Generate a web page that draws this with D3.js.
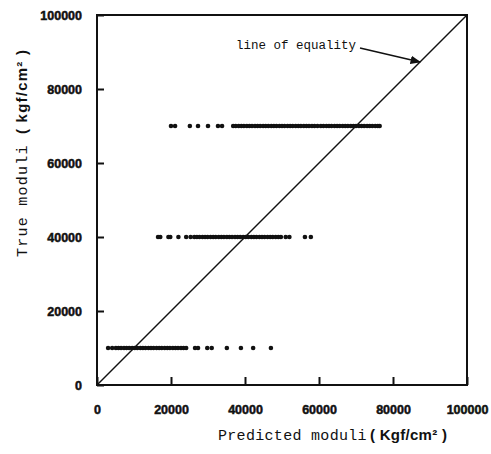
<!DOCTYPE html>
<html>
<head>
<meta charset="utf-8">
<script src="https://cdn.jsdelivr.net/npm/d3@7/dist/d3.min.js"></script>
<style>
  html, body { margin: 0; padding: 0; background: #fff; }
  svg { display: block; }
</style>
</head>
<body>
<svg id="chart" width="491" height="454"></svg>
<script>
// ---- data ----
const xTicks = [0, 20000, 40000, 60000, 80000, 100000];
const yTicks = [0, 20000, 40000, 60000, 80000, 100000];
const trueLevels = [10000, 40000, 70000];
const predictedAt10000 = [3000, 4100, 5100, 5800, 6500, 7300, 8000, 8700, 9500, 10200, 10900, 11700,
  12400, 13100, 13900, 14600, 15300, 16100, 16800, 17500, 18300, 19000, 19700, 20500, 21200, 21900,
  22700, 23400, 24100, 26500, 27300, 29800, 31000, 35100, 38900, 42200, 47000];
const predictedAt40000 = [16500, 17100, 19300, 19800, 22000, 24100, 25300, 26300, 27000, 27700, 28500,
  29200, 29900, 30700, 31400, 32100, 32900, 33600, 34300, 35100, 35800, 36500, 37300, 38000, 38700,
  39500, 40200, 40900, 41700, 42400, 43100, 43900, 44600, 45300, 46100, 46800, 47500, 48300, 49000,
  49700, 51000, 52000, 56200, 57800];
const predictedAt70000 = [20000, 21100, 25100, 27300, 30000, 32700, 33800, 36800, 37500, 38300, 39000,
  39700, 40500, 41200, 41900, 42700, 43400, 44100, 44900, 45600, 46300, 47100, 47800, 48500, 49300,
  50000, 50700, 51500, 52200, 52900, 53700, 54400, 55100, 55900, 56600, 57300, 58100, 58800, 59600,
  60500, 61200, 62000, 62700, 63400, 64200, 64900, 65600, 66400, 67100, 67800, 68600, 69300, 70000,
  70800, 71500, 72200, 73000, 73700, 74400, 75200, 75900, 76400];
const equalityLine = [0, 100000];
const equalityLabel = "line of equality";
const xTitle = ["Predicted moduli", "( Kgf/cm² )"];
const yTitle = ["True moduli ", "( kgf/cm² )"];

// ---- drawing ----
const ink = "#111";
const svg = d3.select("#chart");
const L = 97, R = 467, T = 15, B = 385;
const x = d3.scaleLinear().domain([0, 100000]).range([L, R]);
const y = d3.scaleLinear().domain([0, 100000]).range([B, T]);

const tickFont = "'Liberation Sans', Arial, sans-serif";

function styleTickText(sel) {
  sel.attr("fill", ink).attr("stroke", ink).attr("stroke-width", 0.5)
    .attr("font-family", tickFont).attr("font-weight", "bold").attr("font-size", 12.5);
}

// x axis
const gx = svg.append("g").attr("transform", `translate(0,${B})`)
  .call(d3.axisBottom(x).tickValues(xTicks).tickFormat(d3.format("d"))
    .tickSizeInner(-8).tickSizeOuter(0).tickPadding(20));
gx.select(".domain").remove();
gx.selectAll(".tick line").attr("stroke", ink).attr("stroke-width", 2);
styleTickText(gx.selectAll(".tick text"));

// y axis
const gy = svg.append("g").attr("transform", `translate(${L},0)`)
  .call(d3.axisLeft(y).tickValues(yTicks).tickFormat(d3.format("d"))
    .tickSizeInner(-7).tickSizeOuter(0).tickPadding(15));
gy.select(".domain").remove();
gy.selectAll(".tick line").attr("stroke", ink).attr("stroke-width", 2);
styleTickText(gy.selectAll(".tick text"));

// frame
svg.append("rect").attr("x", x(0)).attr("y", y(100000))
  .attr("width", x(100000) - x(0)).attr("height", y(0) - y(100000))
  .attr("fill", "none").attr("stroke", ink).attr("stroke-width", 2);

// line of equality
svg.append("line")
  .attr("x1", x(equalityLine[0])).attr("y1", y(equalityLine[0]))
  .attr("x2", x(equalityLine[1])).attr("y2", y(equalityLine[1]))
  .attr("stroke", ink).attr("stroke-width", 1.5);

// points
const series = [predictedAt10000, predictedAt40000, predictedAt70000];
series.forEach((vals, i) => {
  svg.append("g").selectAll("circle").data(vals).join("circle")
    .attr("cx", d => x(d)).attr("cy", y(trueLevels[i])).attr("r", 2.3)
    .attr("fill", ink);
});

// annotation arrow
svg.append("defs").append("marker").attr("id", "ah")
  .attr("viewBox", "0 0 10 10").attr("refX", 9).attr("refY", 5)
  .attr("markerWidth", 7).attr("markerHeight", 7).attr("orient", "auto")
  .append("path").attr("d", "M0,1 L10,5 L0,9 Z").attr("fill", ink);
const hx = x(87300), hy = y(87300);
svg.append("line").attr("x1", hx - 60).attr("y1", hy - 14).attr("x2", hx).attr("y2", hy)
  .attr("stroke", ink).attr("stroke-width", 1.5).attr("marker-end", "url(#ah)");
svg.append("text").attr("x", hx - 64).attr("y", hy - 13)
  .attr("text-anchor", "end").attr("font-family", "'Liberation Mono', 'DejaVu Sans Mono', monospace")
  .attr("font-size", 12.5).attr("fill", ink).text(equalityLabel);

// axis titles
const monoFont = "'Liberation Mono', 'DejaVu Sans Mono', monospace";
const xt = svg.append("text").attr("x", 218).attr("y", 440)
  .attr("font-family", monoFont).attr("font-size", 15).attr("fill", ink)
  .attr("textLength", 229).attr("lengthAdjust", "spacing");
xt.append("tspan").text(xTitle[0]);
xt.append("tspan").attr("font-family", tickFont).attr("font-weight", "bold").attr("dx", 3).text(xTitle[1]);

const yt = svg.append("text").attr("transform", "translate(27,257) rotate(-90)")
  .attr("font-family", monoFont).attr("font-size", 15).attr("fill", ink)
  .attr("textLength", 207).attr("lengthAdjust", "spacing");
yt.append("tspan").text(yTitle[0]);
yt.append("tspan").attr("font-family", tickFont).attr("font-weight", "bold").text(yTitle[1]);
</script>
</body>
</html>
